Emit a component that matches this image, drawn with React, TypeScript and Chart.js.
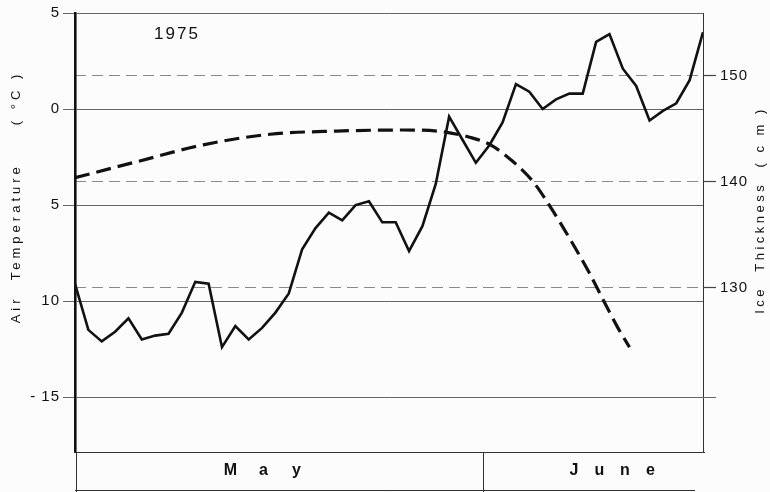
import React, { useEffect, useRef } from "react";
import { Chart, registerables } from "chart.js";

Chart.register(...registerables);

// Day index: 0 = 1 May ... 47 = 17 June
const dayIndex = [
  0, 1, 2, 3, 4, 5, 6, 7, 8, 9, 10, 11, 12, 13, 14, 15, 16, 17, 18, 19, 20, 21, 22, 23,
  24, 25, 26, 27, 28, 29, 30, 31, 32, 33, 34, 35, 36, 37, 38, 39, 40, 41, 42, 43, 44, 45, 46, 47,
];

// Daily air temperature (°C)
const airTemp = [
  -9.1, -11.5, -12.1, -11.6, -10.9, -12.0, -11.8, -11.7, -10.6, -9.0, -9.1, -12.4,
  -11.3, -12.0, -11.4, -10.6, -9.6, -7.3, -6.2, -5.4, -5.8, -5.0, -4.8, -5.9,
  -5.9, -7.4, -6.1, -3.9, -0.4, -1.6, -2.8, -1.9, -0.7, 1.3, 0.9, 0.0,
  0.5, 0.8, 0.8, 3.5, 3.9, 2.1, 1.2, -0.6, -0.1, 0.3, 1.5, 4.0,
];

// Ice thickness curve (cm)
const iceDay = [0, 4.6, 9.6, 14.6, 19.6, 24.6, 27.1, 29.6, 31.1, 32.8, 34.3, 35.6, 37.1, 38.5, 39.6, 40.6, 41.5];
const iceThickness = [140.4, 141.9, 143.5, 144.5, 144.8, 144.9, 144.8, 144.2, 143.5, 141.9, 140.0, 137.6, 134.5, 131.4, 128.7, 126.3, 124.4];

const tempTicks = [5, 0, -5, -10, -15];
const tempTickLabels = ["5", "0", "5", "10", "- 15"];
const iceTicks = [130, 140, 150];

const monthNames = ["May", "June"];
const monthLabelDay = [14.1, 40.2];
const monthLetterPitch = [33, 25.5];
const monthDividerDay = 30.5;
const monthBoxEndDay = 46.4;

const FONT = "'Liberation Sans', Arial, Helvetica, sans-serif";

const decorPlugin = {
  id: "decor",
  beforeDraw(chart: any) {
    const { ctx, width, height } = chart;
    ctx.save();
    ctx.fillStyle = "#fcfcfc";
    ctx.fillRect(0, 0, width, height);
    ctx.restore();
    ctx.letterSpacing = "1px";
  },
  afterDraw(chart: any) {
    const { ctx, chartArea: ca, scales } = chart;
    const xs = scales.x;
    const ys = scales.y;
    const line = (x1: number, y1: number, x2: number, y2: number) => {
      ctx.beginPath();
      ctx.moveTo(x1, y1);
      ctx.lineTo(x2, y2);
      ctx.stroke();
    };
    ctx.save();
    // -15 gridline extends past the right axis
    ctx.strokeStyle = "#666";
    ctx.lineWidth = 1;
    const y15 = Math.round(ys.getPixelForValue(-15)) + 0.5;
    line(ca.right, y15, ca.right + 13, y15);
    // bottom of plot
    ctx.strokeStyle = "#333";
    ctx.lineWidth = 1.2;
    line(ca.left, ca.bottom + 0.5, ca.right + 2, ca.bottom + 0.5);
    // month box
    const boxBottom = ca.bottom + 38;
    ctx.lineWidth = 1;
    line(ca.left + 1.5, ca.bottom, ca.left + 1.5, boxBottom + 3);
    line(ca.left, boxBottom + 0.5, xs.getPixelForValue(monthBoxEndDay), boxBottom + 0.5);
    const dx = Math.round(xs.getPixelForValue(monthDividerDay)) + 0.5;
    line(dx, ca.bottom, dx, boxBottom + 3);

    ctx.fillStyle = "#111";
    ctx.textAlign = "center";
    ctx.textBaseline = "middle";
    ctx.letterSpacing = "0px";
    ctx.font = `bold 16px ${FONT}`;
    monthNames.forEach((name, i) => {
      const c = xs.getPixelForValue(monthLabelDay[i]);
      const p = monthLetterPitch[i];
      const letters = name.split("");
      letters.forEach((ch, k) => {
        ctx.fillText(ch, c + (k - (letters.length - 1) / 2) * p, ca.bottom + 19);
      });
    });

    // year label
    ctx.font = `17px ${FONT}`;
    ctx.letterSpacing = "2px";
    ctx.fillText("1975", 177, 34);

    // left axis title
    ctx.font = `13px ${FONT}`;
    ctx.letterSpacing = "4px";
    ctx.save();
    ctx.translate(16, 197);
    ctx.rotate(-Math.PI / 2);
    ctx.fillText("Air  Temperature     ( °C )", 0, 0);
    ctx.restore();

    // right axis title
    ctx.letterSpacing = "3.5px";
    ctx.save();
    ctx.translate(760, 210);
    ctx.rotate(-Math.PI / 2);
    ctx.fillText("Ice  Thickness  ( c m )", 0, 0);
    ctx.restore();

    ctx.restore();
  },
};

export default function App() {
  const ref = useRef<HTMLCanvasElement | null>(null);

  useEffect(() => {
    if (!ref.current) return;
    const chart = new Chart(ref.current, {
      type: "line",
      data: {
        datasets: [
          {
            label: "Air temperature",
            data: dayIndex.map((d, i) => ({ x: d, y: airTemp[i] })),
            yAxisID: "y",
            borderColor: "#111",
            borderWidth: 2.6,
            pointRadius: 0,
            tension: 0,
            fill: false,
          },
          {
            label: "Ice thickness",
            data: iceDay.map((d, i) => ({ x: d, y: iceThickness[i] })),
            yAxisID: "y2",
            borderColor: "#111",
            borderWidth: 3.2,
            borderDash: [15, 7],
            pointRadius: 0,
            cubicInterpolationMode: "monotone",
            fill: false,
          },
        ],
      },
      options: {
        animation: false,
        responsive: false,
        devicePixelRatio: 1,
        layout: { padding: { top: 13, bottom: 40, left: 0, right: 0 } },
        plugins: { legend: { display: false }, tooltip: { enabled: false }, title: { display: false } },
        scales: {
          x: { type: "linear", min: 0, max: 47, display: false },
          y: {
            type: "linear",
            position: "left",
            min: -17.86,
            max: 5,
            afterFit: (s: any) => {
              s.width = 75;
            },
            afterBuildTicks: (s: any) => {
              s.ticks = tempTicks.map((v) => ({ value: v }));
            },
            ticks: {
              padding: 3,
              color: "#111",
              font: { family: FONT, size: 15 },
              callback: (v: any) => {
                const i = tempTicks.indexOf(Number(v));
                return i >= 0 ? tempTickLabels[i] : "";
              },
            },
            grid: { color: "#666", lineWidth: 1, tickLength: 12, tickColor: "#666" },
            border: { display: true, color: "#111", width: 2.6 },
          },
          y2: {
            type: "linear",
            position: "right",
            min: 114.52,
            max: 155.94,
            afterFit: (s: any) => {
              s.width = 67;
            },
            afterBuildTicks: (s: any) => {
              s.ticks = iceTicks.map((v) => ({ value: v }));
            },
            ticks: {
              padding: 4,
              color: "#111",
              font: { family: FONT, size: 15 },
            },
            grid: {
              color: "#8a8a8a",
              lineWidth: 1,
              tickLength: 13,
              tickColor: "#444",
              tickWidth: 1.2,
              tickBorderDash: [],
            },
            border: { display: true, color: "#333", width: 1, dash: [11, 6] },
          },
        },
      },
      plugins: [decorPlugin],
    });
    return () => chart.destroy();
  }, []);

  return (
    <div style={{ position: "fixed", left: 0, top: 0, width: 770, height: 492, background: "#fcfcfc" }}>
      <canvas ref={ref} width={770} height={492} style={{ width: 770, height: 492 }} />
    </div>
  );
}
